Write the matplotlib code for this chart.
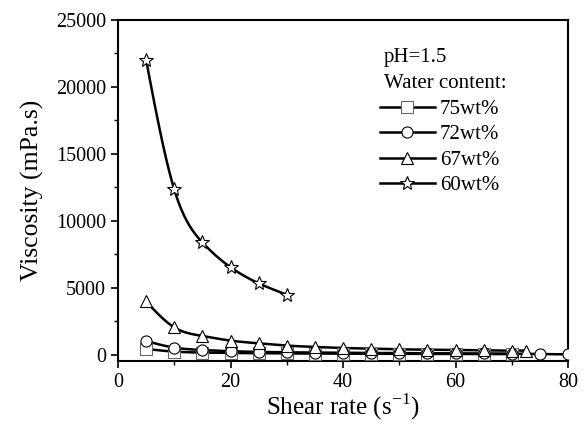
import numpy as np
import matplotlib.pyplot as plt

plt.rcParams["font.family"] = "Liberation Serif"
plt.rcParams["mathtext.fontset"] = "custom"
plt.rcParams["mathtext.rm"] = "Liberation Serif"

# data
x75 = [5, 10, 15, 20, 25, 30, 35, 40, 45, 50, 55, 60, 65, 70]
y75 = [450, 250, 180, 150, 130, 115, 105, 95, 90, 85, 80, 75, 70, 65]
x72 = [5, 10, 15, 20, 25, 30, 35, 40, 45, 50, 55, 60, 65, 70, 75, 80]
y72 = [1040, 550, 370, 280, 230, 200, 180, 160, 150, 140, 130, 120, 110, 100, 60, 55]
x67 = [5, 10, 15, 20, 25, 30, 35, 40, 45, 50, 55, 60, 65, 70, 72.5]
y67 = [4000, 2060, 1420, 1070, 870, 700, 600, 520, 470, 420, 400, 370, 350, 320, 330]
x60 = [5, 10, 15, 20, 25, 30]
y60 = [22000, 12350, 8400, 6550, 5350, 4500]
labels = ['75wt%', '72wt%', '67wt%', '60wt%']
markers = ['s', 'o', '^', '*']


def spline(x, y, n=200):
    # natural cubic spline, only for drawing a smooth line through the points
    x = np.asarray(x, float); y = np.asarray(y, float)
    k = len(x); h = np.diff(x)
    A = np.zeros((k, k)); b = np.zeros(k)
    A[0, 0] = A[-1, -1] = 1
    for i in range(1, k - 1):
        A[i, i - 1] = h[i - 1]; A[i, i] = 2 * (h[i - 1] + h[i]); A[i, i + 1] = h[i]
        b[i] = 3 * ((y[i + 1] - y[i]) / h[i] - (y[i] - y[i - 1]) / h[i - 1])
    c = np.linalg.solve(A, b)
    xs = np.linspace(x[0], x[-1], n)
    j = np.clip(np.searchsorted(x, xs) - 1, 0, k - 2)
    d = xs - x[j]
    bb = (y[j + 1] - y[j]) / h[j] - h[j] * (2 * c[j] + c[j + 1]) / 3
    dd = (c[j + 1] - c[j]) / (3 * h[j])
    return xs, y[j] + bb * d + c[j] * d ** 2 + dd * d ** 3


fig = plt.figure(figsize=(5.88, 4.24), dpi=100)
ax = fig.add_axes([118 / 588, 1 - 361 / 424, 450 / 588, 341 / 424])

series = [(x75, y75), (x72, y72), (x67, y67), (x60, y60)]
for (xs, ys), lab, m in zip(series, labels, markers):
    sx, sy = spline(xs, ys)
    ax.plot(sx, sy, color='black', lw=1.8, zorder=2)
    ms = 10 if m == '*' else 8
    ec = '0.4' if m == 's' else 'black'
    ax.plot(xs, ys, ls='none', marker=m, ms=ms, mfc='white', mec=ec, mew=0.8, zorder=3)
    ax.plot([], [], color='black', lw=1.8, marker=m, ms=ms, mfc='white', mec=ec, mew=0.8, label=lab)

ax.set_xlim(0, 80)
ax.set_ylim(-450, 25000)
ax.set_xticks([0, 20, 40, 60, 80])
ax.set_xticks([10, 30, 50, 70], minor=True)
ax.set_yticks([0, 5000, 10000, 15000, 20000, 25000])
ax.set_yticks([2500, 7500, 12500, 17500, 22500], minor=True)
ax.tick_params(which='major', direction='out', length=5, width=1.2, labelsize=14.5)
ax.tick_params(which='minor', direction='out', length=3, width=1.0)
for s in ax.spines.values():
    s.set_linewidth(1.5)

ax.set_xlabel('Shear rate (s$^{\\mathregular{-1}}$)', fontsize=18, labelpad=0)
ax.set_ylabel('Viscosity (mPa.s)', fontsize=18.5, labelpad=9)

ax.text(0.591, 0.891, 'pH=1.5', transform=ax.transAxes, fontsize=15, va='center')
ax.text(0.591, 0.815, 'Water content:', transform=ax.transAxes, fontsize=15, va='center')
ax.legend(loc='upper left', bbox_to_anchor=(0.583, 0.767), frameon=False,
          fontsize=15, handlelength=2.6, handletextpad=0.25, labelspacing=0.28,
          borderpad=0, borderaxespad=0)

fig.savefig('out.png', dpi=100)
